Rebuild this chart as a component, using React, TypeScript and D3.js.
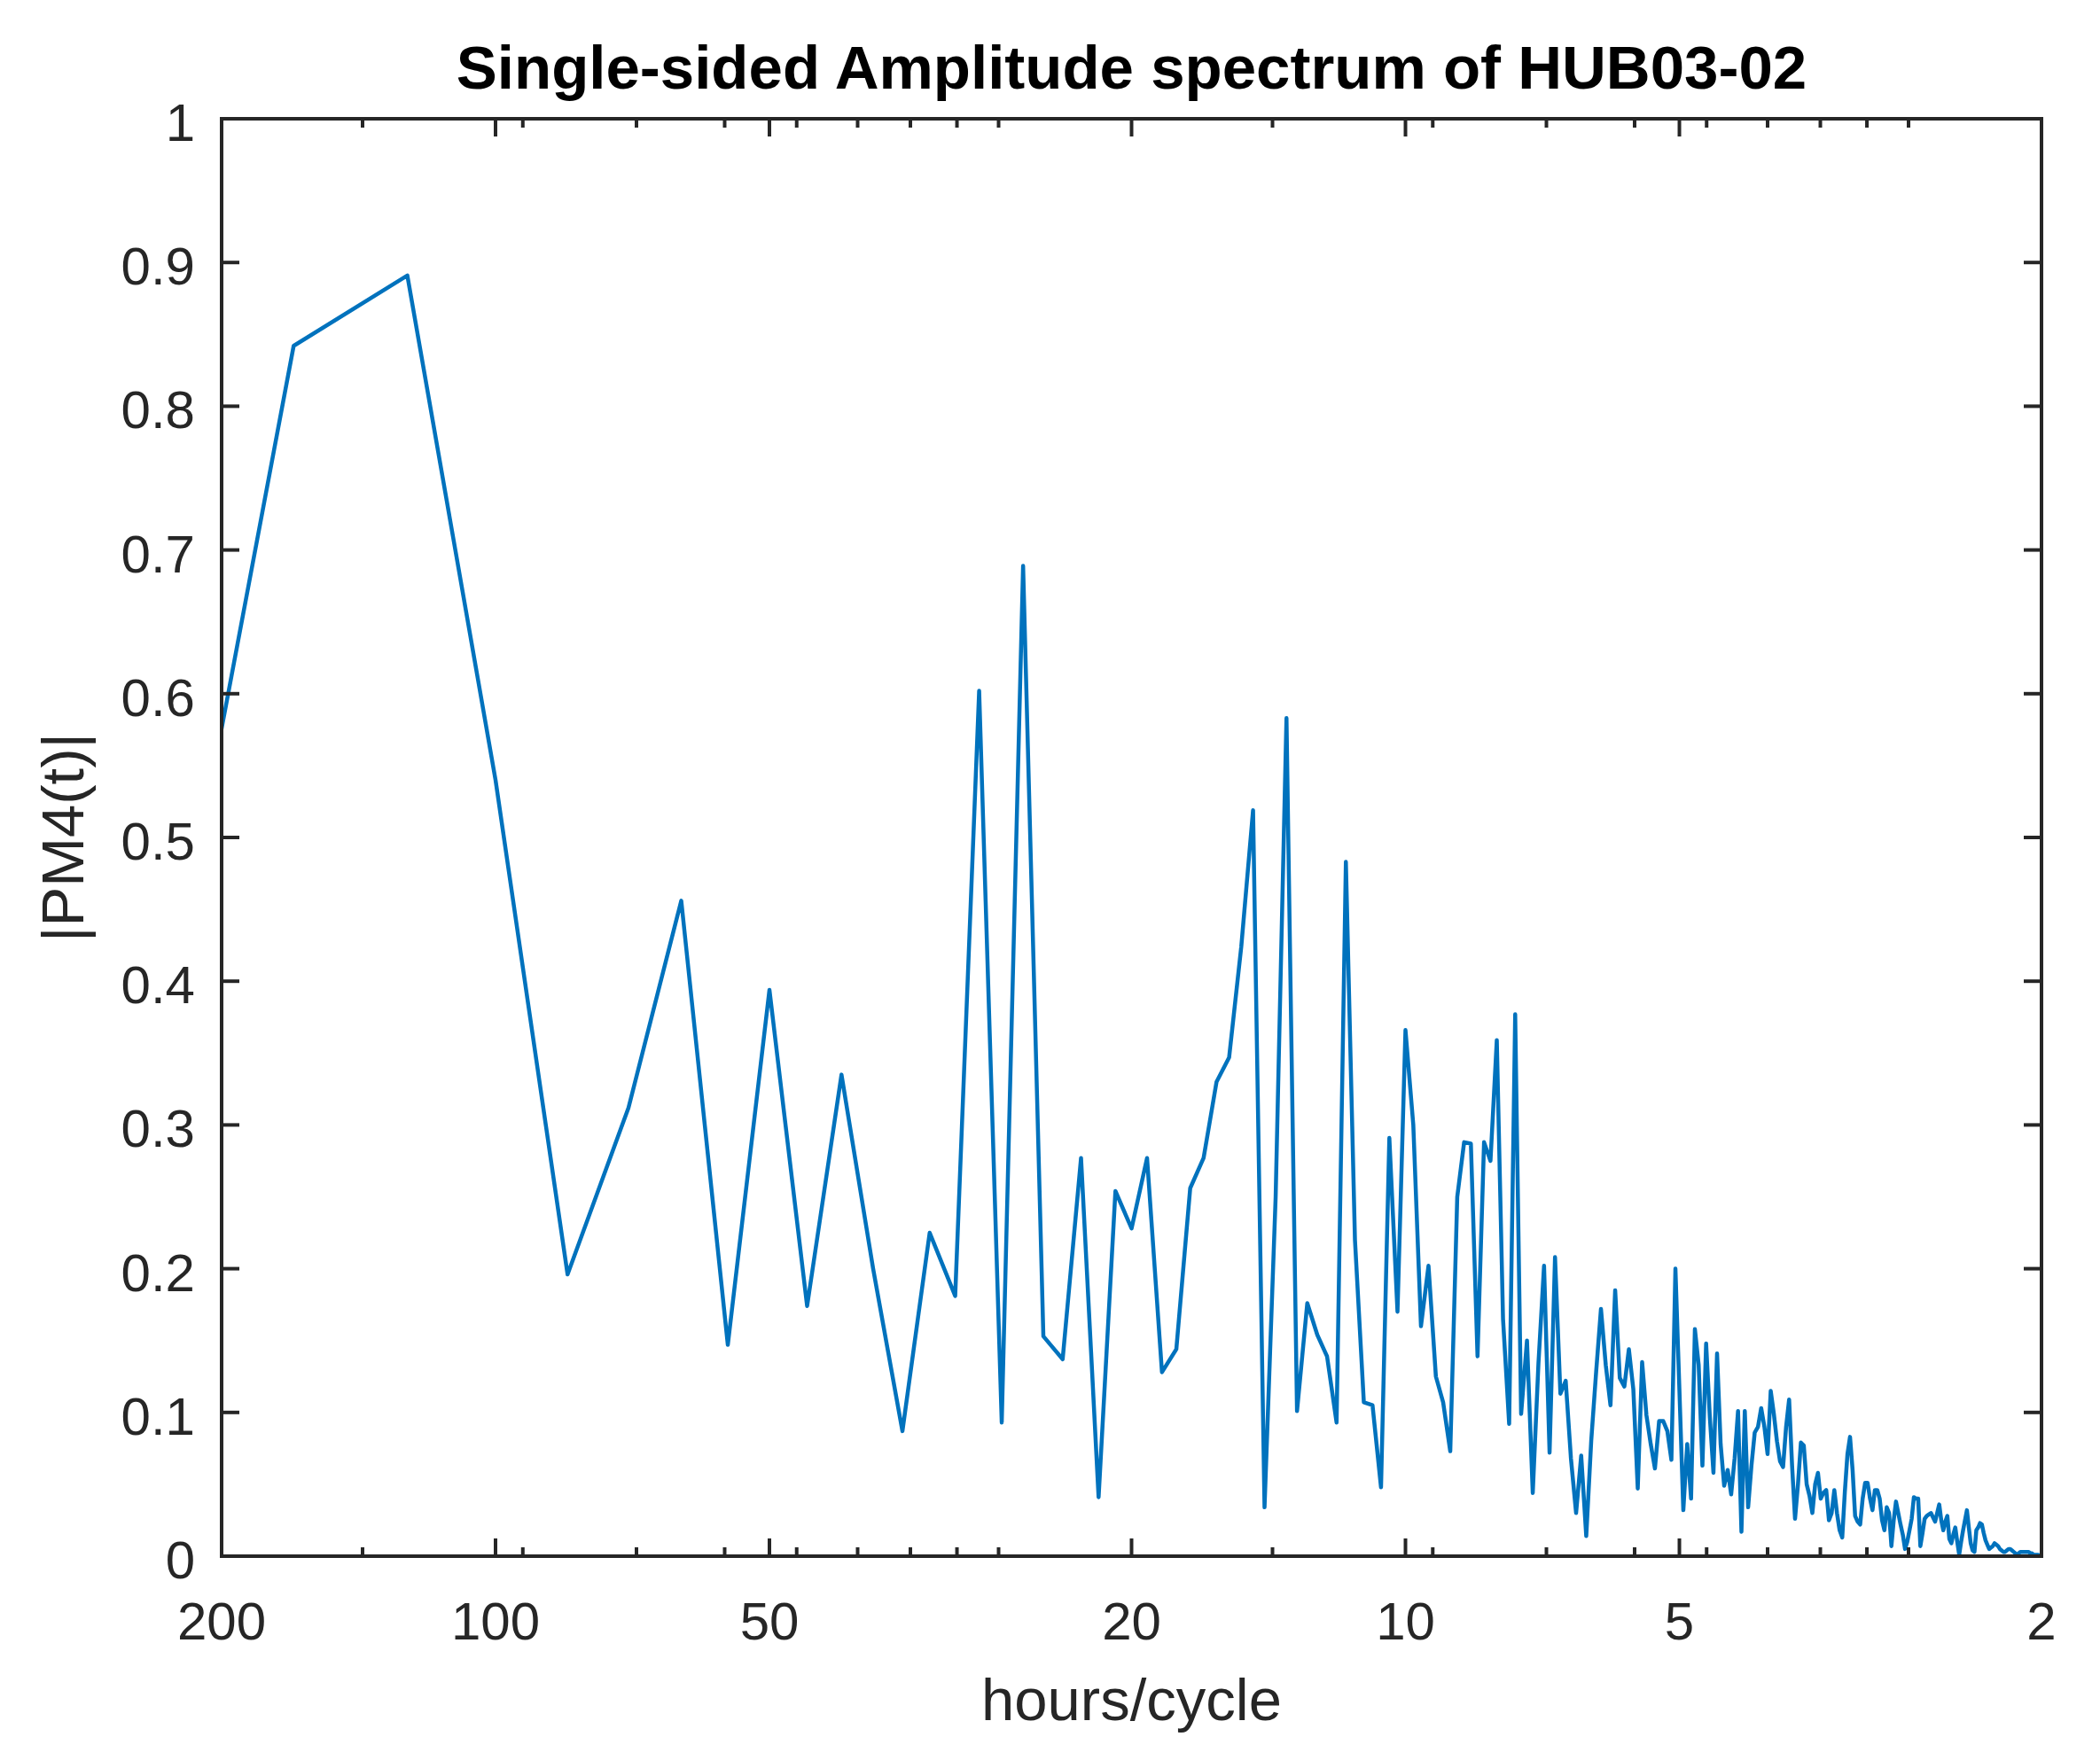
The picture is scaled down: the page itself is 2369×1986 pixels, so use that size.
import { useEffect, useRef } from 'react';
import * as d3 from 'd3';

// FFT record length (hours) and first harmonic drawn; period of harmonic k = RECORD_HOURS / k
const RECORD_HOURS = 500;
const FIRST_HARMONIC = 2;

// amplitudes, harmonics 2..50
const ampLow = [
  0.25, 0.842, 0.891, 0.54, 0.196, 0.312, 0.456, 0.147, 0.394, 0.174,
  0.335, 0.2, 0.087, 0.225, 0.181, 0.602, 0.093, 0.689, 0.153, 0.137,
  0.277, 0.041, 0.254, 0.228, 0.277, 0.128, 0.144, 0.256, 0.277, 0.33,
  0.347, 0.424, 0.519, 0.034, 0.25, 0.583, 0.101, 0.176, 0.154, 0.139,
  0.093, 0.483, 0.22, 0.107, 0.105, 0.048, 0.291, 0.17, 0.366,
];

// amplitudes, harmonics 51..120
const ampMid = [
  0.3, 0.16, 0.202, 0.125, 0.107, 0.073, 0.25, 0.288, 0.287, 0.139,
  0.288, 0.275, 0.359, 0.165, 0.092, 0.377, 0.099, 0.15, 0.044, 0.134,
  0.202, 0.072, 0.208, 0.113, 0.122, 0.068, 0.03, 0.07, 0.014, 0.08,
  0.128, 0.172, 0.133, 0.105, 0.185, 0.124, 0.118, 0.144, 0.116, 0.047,
  0.135, 0.098, 0.078, 0.061, 0.094, 0.094, 0.087, 0.067, 0.2, 0.116,
  0.032, 0.078, 0.04, 0.158, 0.133, 0.063, 0.148, 0.097, 0.058, 0.141,
  0.078, 0.049, 0.06, 0.043, 0.068, 0.101, 0.017, 0.101, 0.034, 0.063,
];

// amplitudes, harmonics 121..250
const ampHigh = [
  0.086, 0.09, 0.103, 0.09, 0.071, 0.115, 0.099, 0.08, 0.066, 0.062,
  0.09, 0.109, 0.063, 0.026, 0.05, 0.079, 0.077, 0.05, 0.042, 0.03,
  0.05, 0.058, 0.04, 0.044, 0.046, 0.025, 0.03, 0.046, 0.03, 0.018,
  0.013, 0.045, 0.071, 0.083, 0.06, 0.028, 0.024, 0.022, 0.04, 0.051,
  0.051, 0.04, 0.032, 0.046, 0.046, 0.04, 0.025, 0.018, 0.034, 0.03,
  0.007, 0.025, 0.038, 0.03, 0.022, 0.015, 0.005, 0.01, 0.018, 0.026,
  0.041, 0.04, 0.04, 0.007, 0.016, 0.026, 0.028, 0.029, 0.03, 0.027,
  0.024, 0.03, 0.036, 0.025, 0.018, 0.024, 0.028, 0.012, 0.009, 0.015,
  0.02, 0.01, 0.001, 0.01, 0.018, 0.025, 0.032, 0.02, 0.009, 0.004,
  0.003, 0.018, 0.02, 0.023, 0.022, 0.016, 0.011, 0.008, 0.005, 0.006,
  0.007, 0.009, 0.008, 0.007, 0.005, 0.004, 0.003, 0.003, 0.004, 0.005,
  0.005, 0.004, 0.003, 0.002, 0.001, 0.002, 0.003, 0.003, 0.003, 0.003,
  0.003, 0.003, 0.002, 0.002, 0.001, 0.001, 0.001, 0.001, 0, 0,
];

const xMajorTicks = [200, 100, 50, 20, 10, 5, 2];
const xMinorTicks = [
  140, 93.33, 70, 56, 46.67, 40, 35, 31.11, 28, 14, 9.333, 7, 5.6, 4.667, 4, 3.5, 3.111, 2.8,
];
const yTicks = [0, 0.1, 0.2, 0.3, 0.4, 0.5, 0.6, 0.7, 0.8, 0.9, 1];
const yTickLabels = ['0', '0.1', '0.2', '0.3', '0.4', '0.5', '0.6', '0.7', '0.8', '0.9', '1'];

const TITLE = 'Single-sided Amplitude spectrum of HUB03-02';
const X_LABEL = 'hours/cycle';
const Y_LABEL = '|PM4(t)|';

const W = 2369;
const H = 1986;
const FONT = '"Liberation Sans", Arial, Helvetica, sans-serif';
const INK = '#262626';

export default function App() {
  const svgRef = useRef<SVGSVGElement>(null);

  useEffect(() => {
    if (!svgRef.current) return;
    const svg = d3.select(svgRef.current);
    svg.selectAll('*').remove();

    const margin = { top: 134, right: 66, bottom: 230, left: 250 };
    const x0 = margin.left;
    const x1 = W - margin.right;
    const y0 = margin.top;
    const y1 = H - margin.bottom;

    const amps = [...ampLow, ...ampMid, ...ampHigh];
    const data = amps.map((a, i) => ({
      period: RECORD_HOURS / (FIRST_HARMONIC + i),
      amp: a,
    }));

    const x = d3.scaleLog().domain([200, 2]).range([x0, x1]);
    const y = d3.scaleLinear().domain([0, 1]).range([y1, y0]);

    svg.append('rect').attr('width', W).attr('height', H).attr('fill', '#fff');

    svg
      .append('defs')
      .append('clipPath')
      .attr('id', 'plot-clip')
      .append('rect')
      .attr('x', x0)
      .attr('y', y0)
      .attr('width', x1 - x0)
      .attr('height', y1 - y0);

    // spectrum line
    const line = d3
      .line<{ period: number; amp: number }>()
      .x((d) => x(d.period))
      .y((d) => y(d.amp));

    svg
      .append('path')
      .datum(data)
      .attr('clip-path', 'url(#plot-clip)')
      .attr('d', line)
      .attr('fill', 'none')
      .attr('stroke', '#0072BD')
      .attr('stroke-width', 4.5)
      .attr('stroke-linejoin', 'round');

    const axes = svg.append('g').attr('stroke', INK).attr('stroke-width', 4);

    // x ticks, bottom and mirrored on top
    const xTick = (vals: number[], len: number) => {
      axes
        .selectAll(null)
        .data(vals)
        .enter()
        .append('line')
        .attr('x1', (d) => x(d))
        .attr('x2', (d) => x(d))
        .attr('y1', y1)
        .attr('y2', y1 - len);
      axes
        .selectAll(null)
        .data(vals)
        .enter()
        .append('line')
        .attr('x1', (d) => x(d))
        .attr('x2', (d) => x(d))
        .attr('y1', y0)
        .attr('y2', y0 + len);
    };
    xTick(xMajorTicks, 20);
    xTick(xMinorTicks, 10);

    // y ticks, left and mirrored on right
    axes
      .selectAll(null)
      .data(yTicks)
      .enter()
      .append('line')
      .attr('x1', x0)
      .attr('x2', x0 + 20)
      .attr('y1', (d) => y(d))
      .attr('y2', (d) => y(d));
    axes
      .selectAll(null)
      .data(yTicks)
      .enter()
      .append('line')
      .attr('x1', x1)
      .attr('x2', x1 - 20)
      .attr('y1', (d) => y(d))
      .attr('y2', (d) => y(d));

    // box
    axes
      .append('rect')
      .attr('x', x0)
      .attr('y', y0)
      .attr('width', x1 - x0)
      .attr('height', y1 - y0)
      .attr('fill', 'none');

    // tick labels
    svg
      .selectAll('.xlab')
      .data(xMajorTicks)
      .enter()
      .append('text')
      .attr('class', 'xlab')
      .attr('x', (d) => x(d))
      .attr('y', y1 + 94)
      .attr('text-anchor', 'middle')
      .attr('font-family', FONT)
      .attr('font-size', 60)
      .attr('fill', INK)
      .text((d) => String(d));

    svg
      .selectAll('.ylab')
      .data(yTicks)
      .enter()
      .append('text')
      .attr('class', 'ylab')
      .attr('x', x0 - 30)
      .attr('y', (d) => y(d) + 25)
      .attr('text-anchor', 'end')
      .attr('font-family', FONT)
      .attr('font-size', 60)
      .attr('fill', INK)
      .text((_, i) => yTickLabels[i]);

    // title and axis labels
    svg
      .append('text')
      .attr('x', (x0 + x1) / 2)
      .attr('y', 100)
      .attr('text-anchor', 'middle')
      .attr('font-family', FONT)
      .attr('font-weight', 'bold')
      .attr('font-size', 69)
      .attr('fill', '#000')
      .text(TITLE);

    svg
      .append('text')
      .attr('x', (x0 + x1) / 2)
      .attr('y', 1941)
      .attr('text-anchor', 'middle')
      .attr('font-family', FONT)
      .attr('font-size', 67)
      .attr('fill', INK)
      .text(X_LABEL);

    svg
      .append('text')
      .attr('transform', `translate(94,${(y0 + y1) / 2}) rotate(-90)`)
      .attr('text-anchor', 'middle')
      .attr('font-family', FONT)
      .attr('font-size', 67)
      .attr('fill', INK)
      .text(Y_LABEL);
  }, []);

  return (
    <svg
      ref={svgRef}
      width={W}
      height={H}
      style={{ position: 'absolute', left: 0, top: 0, display: 'block' }}
    />
  );
}
